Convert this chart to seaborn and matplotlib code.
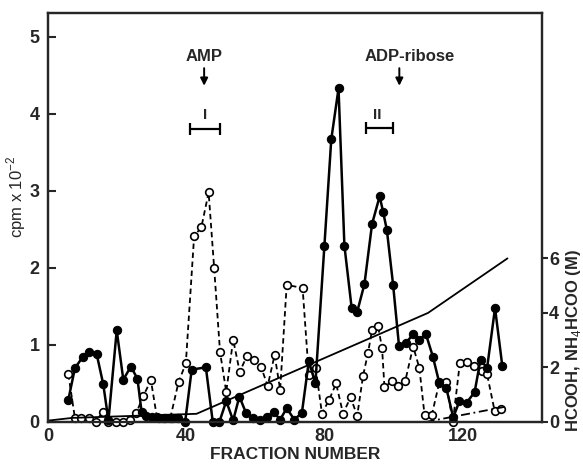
import pandas as pd
import numpy as np
import matplotlib
matplotlib.use("Agg")
import matplotlib.pyplot as plt
import seaborn as sns

# filled circles, solid line
frac_filled = [5.9, 7.8, 10.0, 11.9, 14.1, 16.0, 17.5, 19.9, 21.8, 24.0, 25.9, 27.1,
               28.3, 30.0, 32.0, 33.9, 35.8, 37.7, 39.7, 41.6, 45.7, 47.7, 49.6, 51.6,
               53.6, 55.4, 57.3, 59.3, 61.3, 63.4, 65.3, 67.2, 69.1, 71.3, 73.5, 75.5,
               77.4, 80.0, 82.0, 84.1, 85.8, 87.9, 89.5, 91.6, 93.8, 96.0, 97.0, 98.1,
               99.9, 101.6, 103.5, 105.7, 107.5, 109.4, 111.4, 113.2, 115.3, 117.3,
               119.1, 121.2, 123.5, 125.2, 127.1, 129.4, 131.5]
cpm_filled = [0.29, 0.70, 0.84, 0.91, 0.88, 0.49, 0.02, 1.19, 0.55, 0.72, 0.56, 0.13,
              0.08, 0.07, 0.05, 0.05, 0.05, 0.05, 0.0, 0.68, 0.71, 0.0, 0.0, 0.27,
              0.02, 0.33, 0.12, 0.05, 0.03, 0.07, 0.13, 0.03, 0.18, 0.03, 0.12, 0.79,
              0.50, 2.28, 3.67, 4.33, 2.29, 1.48, 1.43, 1.79, 2.57, 2.93, 2.73, 2.49,
              1.78, 0.99, 1.02, 1.14, 1.07, 1.14, 0.85, 0.52, 0.44, 0.06,
              0.27, 0.25, 0.39, 0.81, 0.70, 1.48, 0.73]

# open circles, dashed line
frac_open = [5.9, 7.8, 9.7, 11.9, 13.8, 15.8, 17.5, 19.7, 21.7, 23.7, 25.6, 27.6,
             29.8, 31.5, 33.4, 35.4, 37.8, 39.9, 42.3, 44.4, 46.5, 48.1, 49.8, 51.6,
             53.6, 55.5, 57.6, 59.5, 61.7, 63.6, 65.6, 67.2, 69.1, 73.7, 75.5, 77.5,
             79.3, 81.4, 83.4, 85.4, 87.6, 89.5, 91.2, 92.6, 93.8, 95.5, 96.7, 97.4,
             99.5, 101.4, 103.4, 105.7, 107.5, 109.0, 111.1, 113.2, 115.2, 117.2,
             119.2, 121.2, 123.3, 125.5, 127.1, 129.3, 131.2]
cpm_open = [0.62, 0.05, 0.05, 0.05, 0.0, 0.13, 0.0, 0.0, 0.0, 0.02, 0.12, 0.34,
            0.54, 0.07, 0.05, 0.05, 0.52, 0.76, 2.41, 2.53, 2.98, 2.0, 0.91, 0.39,
            1.07, 0.65, 0.86, 0.81, 0.71, 0.47, 0.87, 0.42, 1.78, 1.74, 0.61, 0.70,
            0.11, 0.29, 0.50, 0.11, 0.32, 0.08, 0.60, 0.89, 1.19, 1.25, 0.96, 0.45,
            0.53, 0.47, 0.53, 0.98, 0.70, 0.09, 0.09, 0.50, 0.52, 0.0,
            0.76, 0.78, 0.73, 0.66, 0.62, 0.14, 0.17]

# gradients (right axis, M)
frac_grad = [0, 7, 43, 110, 133]
conc_grad = [0.05, 0.15, 0.3, 4.0, 6.0]
frac_grad2 = [109.3, 132]
conc_grad2 = [0.0, 0.55]

df_f = pd.DataFrame({"fraction": frac_filled, "cpm": cpm_filled})
df_o = pd.DataFrame({"fraction": frac_open, "cpm": cpm_open})

sns.set_style("ticks")
plt.rcParams['font.family'] = ['Liberation Sans', 'DejaVu Sans']
plt.rcParams['mathtext.fontset'] = 'custom'
plt.rcParams['mathtext.rm'] = 'Liberation Sans'

fig = plt.figure(figsize=(5.83, 4.65), dpi=100)
ax = fig.add_axes([0.0823, 0.0925, 0.8474, 0.8795])

sns.lineplot(data=df_o, x="fraction", y="cpm", ax=ax, sort=False, color="black",
             linewidth=1.3, linestyle=(0, (3, 2)), marker="o", markersize=5.5,
             markerfacecolor="white", markeredgecolor="black", markeredgewidth=1.2,
             clip_on=False, zorder=3)
sns.lineplot(data=df_f, x="fraction", y="cpm", ax=ax, sort=False, color="black",
             linewidth=1.8, marker="o", markersize=6, markerfacecolor="black",
             markeredgecolor="black", clip_on=False, zorder=4)

ax.set_xlim(0, 143)
ax.set_ylim(0, 5.31)
ax.set_xticks([0, 40, 80, 120])
ax.set_yticks([0, 1, 2, 3, 4, 5])
ax.tick_params(axis="x", length=0, pad=4, labelsize=13)
ax.tick_params(axis="y", direction="in", length=6, width=1.5, pad=6, labelsize=13)
for lab in ax.get_xticklabels() + ax.get_yticklabels():
    lab.set_fontweight("bold")
ax.set_xlabel("FRACTION NUMBER", fontsize=12.5, fontweight="bold", labelpad=2)
ax.set_ylabel("cpm x 10$^{-2}$", fontsize=12)
ax.yaxis.set_label_coords(-0.04, 0.55)
for s in ax.spines.values():
    s.set_linewidth(1.6)

ax2 = ax.twinx()
sns.lineplot(x=frac_grad, y=conc_grad, ax=ax2, color="black", linewidth=1.3)
sns.lineplot(x=frac_grad2, y=conc_grad2, ax=ax2, color="black", linewidth=1.3,
             linestyle=(0, (5, 2, 1, 2)))
ax2.set_ylim(0, 15)
ax2.set_yticks([0, 2, 4, 6])
ax2.tick_params(axis="y", direction="out", length=4, width=1.5, pad=1, labelsize=13)
for lab in ax2.get_yticklabels():
    lab.set_fontweight("bold")
ax2.set_ylabel("HCOOH, NH$_4$HCOO (M)", fontsize=12, rotation=90, fontweight="bold")
ax2.yaxis.set_label_coords(1.045, 0.2)
for s in ax2.spines.values():
    s.set_linewidth(1.6)

# annotations
ax.text(45.2, 4.75, "AMP", ha="center", va="center", fontsize=12, fontweight="bold")
ax.annotate("", xy=(45.2, 4.33), xytext=(45.2, 4.63),
            arrowprops=dict(arrowstyle="-|>", color="black", lw=1.4, mutation_scale=11))
ax.text(104.6, 4.75, "ADP-ribose", ha="center", va="center", fontsize=12, fontweight="bold")
ax.annotate("", xy=(101.7, 4.33), xytext=(101.7, 4.63),
            arrowprops=dict(arrowstyle="-|>", color="black", lw=1.4, mutation_scale=11))

ax.errorbar([45.5], [3.81], xerr=[[4.3], [4.3]], color="black", lw=1.6, capsize=4, capthick=1.6)
ax.text(45.5, 3.99, "I", ha="center", va="center", fontsize=11, fontweight="bold")
ax.errorbar([96.0], [3.82], xerr=[[4.0], [4.0]], color="black", lw=1.6, capsize=4, capthick=1.6)
ax.text(95.3, 3.98, "II", ha="center", va="center", fontsize=11, fontweight="bold")

plt.savefig("out.png", dpi=100)
